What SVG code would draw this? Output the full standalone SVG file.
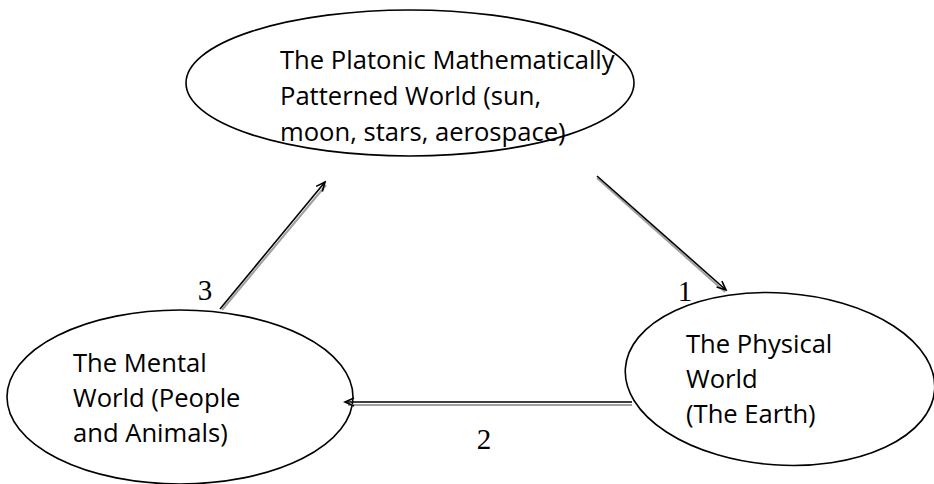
<svg xmlns="http://www.w3.org/2000/svg" width="934" height="484" viewBox="0 0 934 484">
<defs>
<marker id="ah" markerWidth="12" markerHeight="12" refX="10" refY="5" orient="auto" markerUnits="userSpaceOnUse">
<path d="M1,1 L10,5 L1,9" fill="none" stroke="#000" stroke-width="1.6"/>
</marker>
</defs>
<style>
.node{fill:#fff;stroke:#000;stroke-width:1.6}
.t{font-family:"Open Sans","Liberation Sans",sans-serif;font-size:25.6px;fill:#000}
.n{font-family:"Liberation Serif","Times New Roman",serif;font-size:29px;fill:#000}
.sh{stroke:#a0a0a0;stroke-width:2;fill:none}
.ln{stroke:#000;stroke-width:1.6;fill:none}
</style>
<rect width="934" height="484" fill="#fff"/>
<g id="platonic">
<ellipse class="node" cx="410" cy="83" rx="224" ry="73"/>
<text class="t" x="280" y="69">The Platonic Mathematically</text>
<text class="t" x="280" y="105">Patterned World (sun,</text>
<text class="t" x="280" y="141">moon, stars, aerospace)</text>
</g>
<g id="physical">
<ellipse class="node" cx="780" cy="379" rx="155" ry="86" transform="rotate(4 780 379)"/>
<text class="t" x="686" y="353">The Physical</text>
<text class="t" x="686" y="388">World</text>
<text class="t" x="686" y="423">(The Earth)</text>
</g>
<g id="mental">
<ellipse class="node" cx="180" cy="397" rx="173" ry="87"/>
<text class="t" x="73" y="372">The Mental</text>
<text class="t" x="73" y="407">World (People</text>
<text class="t" x="73" y="442">and Animals)</text>
</g>
<g id="connectors">
<line class="sh" x1="597" y1="178" x2="725" y2="292"/>
<line class="ln" x1="597" y1="176" x2="726" y2="290" marker-end="url(#ah)"/>
<line class="sh" x1="632" y1="405" x2="348" y2="405"/>
<line class="ln" x1="632" y1="402" x2="345" y2="402" marker-end="url(#ah)"/>
<line class="sh" x1="222" y1="310" x2="326" y2="185"/>
<line class="ln" x1="220" y1="309" x2="325" y2="182" marker-end="url(#ah)"/>
</g>
<g id="labels">
<text class="n" x="685" y="301" text-anchor="middle">1</text>
<text class="n" x="484" y="449" text-anchor="middle">2</text>
<text class="n" x="205" y="300" text-anchor="middle">3</text>
</g>
</svg>
